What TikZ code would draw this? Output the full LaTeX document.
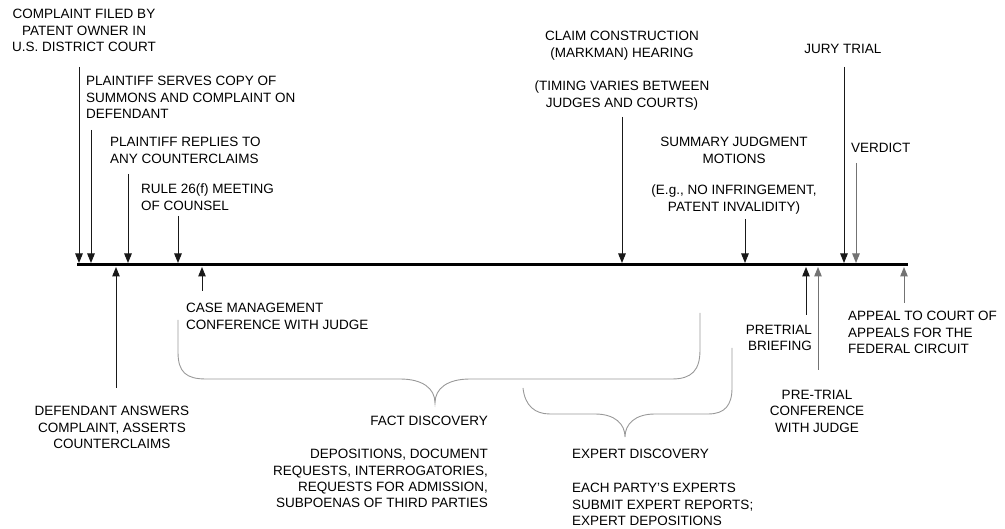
\documentclass[tikz,border=0pt]{standalone}
\usepackage{fontspec}
\setmainfont{Liberation Sans}
\usetikzlibrary{arrows.meta}
\tikzset{
  lbl/.style={inner sep=0pt, font=\fontsize{13.5}{16.4}\selectfont, text=black},
  arr/.style={line width=1pt, draw=black!90, -{Triangle[length=9.5pt,width=7.5pt]}},
  arrg/.style={arr, draw=black!55},
  brace/.style={line width=0.9pt, draw=black!40},
  tline/.style={line width=3pt, draw=black}
}
\begin{document}
\begin{tikzpicture}[x=1pt,y=-1pt]
\useasboundingbox (0,0) rectangle (1005,529);
% timeline
\coordinate (L) at (77,265);
\coordinate (R) at (908,265);
\draw[tline] (L) -- (R);
% labels above
\node[lbl, anchor=north, align=center] (complaint) at (84,9) {COMPLAINT FILED BY\\PATENT OWNER IN\\U.S. DISTRICT COURT};
\node[lbl, anchor=north west, align=left] (serves) at (86,76) {PLAINTIFF SERVES COPY OF\\SUMMONS AND COMPLAINT ON\\DEFENDANT};
\node[lbl, anchor=north west, align=left] (replies) at (110,137) {PLAINTIFF REPLIES TO\\ANY COUNTERCLAIMS};
\node[lbl, anchor=north west, align=left] (rule) at (141,184) {RULE 26(f) MEETING\\OF COUNSEL};
\node[lbl, anchor=north, align=center] (claim) at (622,31) {CLAIM CONSTRUCTION\\(MARKMAN) HEARING};
\node[lbl, anchor=north, align=center] (timing) at (622,81) {(TIMING VARIES BETWEEN\\JUDGES AND COURTS)};
\node[lbl, anchor=north, align=center] (summary) at (734,137) {SUMMARY JUDGMENT\\MOTIONS};
\node[lbl, anchor=north, align=center] (eg) at (734,185) {(E.g., NO INFRINGEMENT,\\PATENT INVALIDITY)};
\node[lbl, anchor=north] (jury) at (843,44) {JURY TRIAL};
\node[lbl, anchor=north west] (verdict) at (851,143) {VERDICT};
% labels below
\node[lbl, anchor=north west, align=left] (casemgmt) at (186,303) {CASE MANAGEMENT\\CONFERENCE WITH JUDGE};
\node[lbl, anchor=north, align=center] (defendant) at (112,406) {DEFENDANT ANSWERS\\COMPLAINT, ASSERTS\\COUNTERCLAIMS};
\node[lbl, anchor=north east] (fact) at (488,416) {FACT DISCOVERY};
\node[lbl, anchor=north east, align=right] (factdet) at (488,449) {DEPOSITIONS, DOCUMENT\\REQUESTS, INTERROGATORIES,\\REQUESTS FOR ADMISSION,\\SUBPOENAS OF THIRD PARTIES};
\node[lbl, anchor=north east, align=right] (briefing) at (812,325) {PRETRIAL\\BRIEFING};
\node[lbl, anchor=north, align=center] (ptconf) at (817,390) {PRE-TRIAL\\CONFERENCE\\WITH JUDGE};
\node[lbl, anchor=north west, align=left] (appeal) at (848,311) {APPEAL TO COURT OF\\APPEALS FOR THE\\FEDERAL CIRCUIT};
\node[lbl, anchor=north west] (expert) at (572,449) {EXPERT DISCOVERY};
\node[lbl, anchor=north west, align=left] (expertdet) at (572,483) {EACH PARTY'S EXPERTS\\SUBMIT EXPERT REPORTS;\\EXPERT DEPOSITIONS};
% arrow coordinates: down arrows
\coordinate (a1s) at (79,67);   \coordinate (a1t) at (79,263);
\coordinate (a2s) at (91,130);  \coordinate (a2t) at (91,263);
\coordinate (a3s) at (128,174); \coordinate (a3t) at (128,263);
\coordinate (a4s) at (178,216); \coordinate (a4t) at (178,263);
\coordinate (a5s) at (622,117); \coordinate (a5t) at (622,263);
\coordinate (a6s) at (745,219); \coordinate (a6t) at (745,263);
\coordinate (a7s) at (844,67);  \coordinate (a7t) at (844,263);
\coordinate (a8s) at (856,163); \coordinate (a8t) at (856,263);
\draw[arr] (a1s) -- (a1t);
\draw[arr] (a2s) -- (a2t);
\draw[arr] (a3s) -- (a3t);
\draw[arr] (a4s) -- (a4t);
\draw[arr] (a5s) -- (a5t);
\draw[arr] (a6s) -- (a6t);
\draw[arr] (a7s) -- (a7t);
\draw[arrg] (a8s) -- (a8t);
% up arrows
\coordinate (b1s) at (116,388); \coordinate (b1t) at (116,267);
\coordinate (b2s) at (202,291); \coordinate (b2t) at (202,267);
\coordinate (b3s) at (806,315); \coordinate (b3t) at (806,267);
\coordinate (b4s) at (818,370); \coordinate (b4t) at (818,267);
\coordinate (b5s) at (904,303); \coordinate (b5t) at (904,267);
\draw[arr] (b1s) -- (b1t);
\draw[arr] (b2s) -- (b2t);
\draw[arr] (b3s) -- (b3t);
\draw[arrg] (b4s) -- (b4t);
\draw[arrg] (b5s) -- (b5t);
% fact discovery brace
\draw[brace] (178,320) -- (178,352) .. controls (178,372) and (186,379) .. (206,379)
  -- (400,379) .. controls (422,379) and (435,388) .. (435,403)
  .. controls (435,388) and (448,379) .. (470,379)
  -- (672,379) .. controls (692,379) and (700,370) .. (700,350) -- (700,313);
% expert discovery brace
\draw[brace] (523,388) .. controls (525,406) and (535,414) .. (550,414)
  -- (595,414) .. controls (615,414) and (625,424) .. (625,437)
  .. controls (625,424) and (635,414) .. (655,414)
  -- (708,414) .. controls (725,414) and (732,405) .. (732,388) -- (732,348);
\end{tikzpicture}
\end{document}
